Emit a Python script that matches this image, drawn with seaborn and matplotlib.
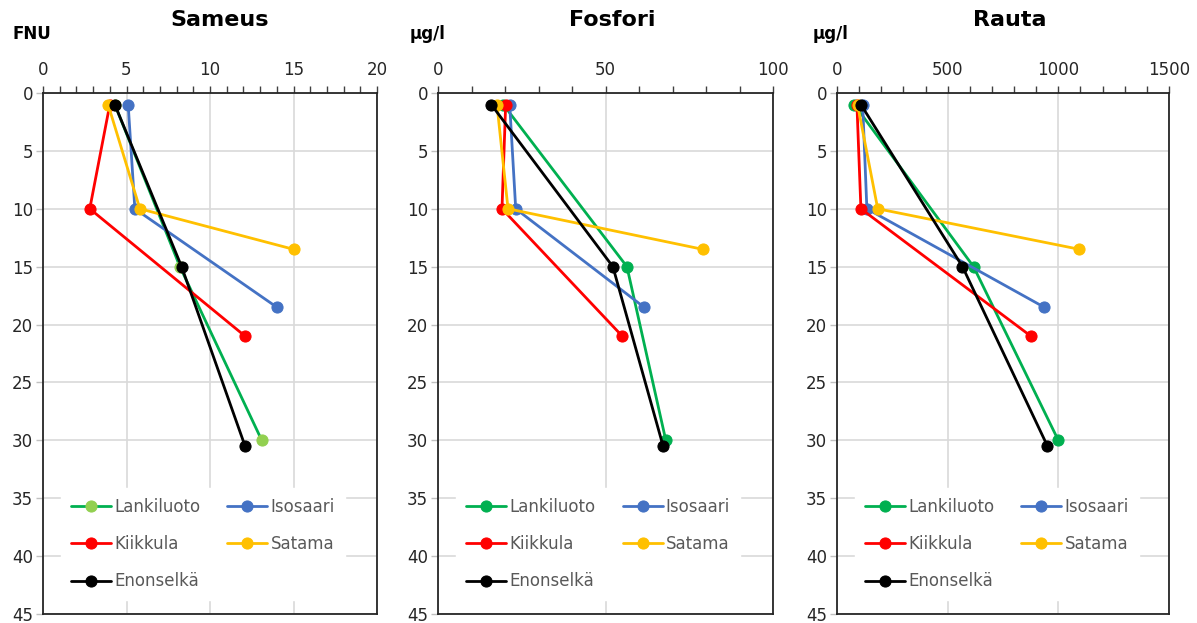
import numpy as np
import pandas as pd
import matplotlib
matplotlib.use("Agg")
import matplotlib.pyplot as plt
from matplotlib.ticker import MultipleLocator
import seaborn as sns

# ---- data ----
stations = ["Lankiluoto", "Isosaari", "Kiikkula", "Satama", "Enonselkä"]
depth_lankiluoto = [1, 15, 30]
depth_isosaari = [1, 10, 18.5]
depth_kiikkula = [1, 10, 21]
depth_satama = [1, 10, 13.5]
depth_enonselka = [1, 15, 30.5]

sameus_lankiluoto = [4.3, 8.2, 13.1]
sameus_isosaari = [5.1, 5.5, 14.0]
sameus_kiikkula = [4.0, 2.8, 12.1]
sameus_satama = [3.9, 5.8, 15.0]
sameus_enonselka = [4.3, 8.3, 12.1]

fosfori_lankiluoto = [19.5, 56.4, 68.0]
fosfori_isosaari = [21.4, 23.2, 61.5]
fosfori_kiikkula = [20.2, 19.1, 55.0]
fosfori_satama = [17.6, 20.9, 79.0]
fosfori_enonselka = [15.9, 52.2, 67.2]

rauta_lankiluoto = [78, 617, 1000]
rauta_isosaari = [116, 135, 936]
rauta_kiikkula = [90, 108, 876]
rauta_satama = [93, 184, 1095]
rauta_enonselka = [108, 567, 951]

titles = ["Sameus", "Fosfori", "Rauta"]
units = ["FNU", "µg/l", "µg/l"]
xmax = [20, 100, 1500]
xmajor = [5, 50, 500]
xminor = [1, 10, 100]

depths = {"Lankiluoto": depth_lankiluoto, "Isosaari": depth_isosaari,
          "Kiikkula": depth_kiikkula, "Satama": depth_satama,
          "Enonselkä": depth_enonselka}
values = [
    {"Lankiluoto": sameus_lankiluoto, "Isosaari": sameus_isosaari, "Kiikkula": sameus_kiikkula,
     "Satama": sameus_satama, "Enonselkä": sameus_enonselka},
    {"Lankiluoto": fosfori_lankiluoto, "Isosaari": fosfori_isosaari, "Kiikkula": fosfori_kiikkula,
     "Satama": fosfori_satama, "Enonselkä": fosfori_enonselka},
    {"Lankiluoto": rauta_lankiluoto, "Isosaari": rauta_isosaari, "Kiikkula": rauta_kiikkula,
     "Satama": rauta_satama, "Enonselkä": rauta_enonselka},
]

colors = {"Lankiluoto": "#00B050", "Isosaari": "#4472C4", "Kiikkula": "#FF0000",
          "Satama": "#FFC000", "Enonselkä": "#000000"}

sns.set_style("white")
plt.rcParams["font.family"] = ["DejaVu Sans"]

fig = plt.figure(figsize=(11.97, 6.23), dpi=100)
W, H = 1197, 623
lefts = [43, 438, 837]
rights = [377, 773, 1169]
top_px, bot_px = 93, 614
title_x = [220, 612, 1010]
unit_x = [12, 410, 813]

for i in range(3):
    ax = fig.add_axes([lefts[i] / W, 1 - bot_px / H, (rights[i] - lefts[i]) / W, (bot_px - top_px) / H])
    for k, st in enumerate(stations):
        df = pd.DataFrame({"value": values[i][st], "depth": depths[st]})
        mfc = "#92D050" if (i == 0 and st == "Lankiluoto") else colors[st]
        sns.lineplot(data=df, x="value", y="depth", ax=ax, sort=False, estimator=None,
                     color=colors[st], linewidth=2.0, marker="o", markersize=8,
                     markerfacecolor=mfc, markeredgecolor=mfc, label=st, zorder=3 + k)
    ax.set_xlim(0, xmax[i])
    ax.set_ylim(45, 0)
    ax.xaxis.set_major_locator(MultipleLocator(xmajor[i]))
    ax.xaxis.set_minor_locator(MultipleLocator(xminor[i]))
    ax.yaxis.set_major_locator(MultipleLocator(5))
    ax.xaxis.tick_top()
    ax.tick_params(axis="x", which="both", top=True, bottom=False, direction="out",
                   length=5, width=1, color="#404040", labelsize=12, pad=5, labelcolor="#262626")
    ax.tick_params(axis="y", which="major", left=True, direction="out", length=5, width=1,
                   color="#c0c0c0", labelsize=12, pad=2, labelcolor="#262626")
    ax.grid(True, which="major", color="#d9d9d9", linewidth=1.2)
    ax.set_axisbelow(True)
    for s in ax.spines.values():
        s.set_visible(True)
        s.set_color("#262626")
        s.set_linewidth(1.3)
    ax.set_xlabel("")
    ax.set_ylabel("")
    # legend in Excel row order: Lankiluoto, Isosaari / Kiikkula, Satama / Enonselkä
    h, l = ax.get_legend_handles_labels()
    hd = dict(zip(l, h))
    order = ["Lankiluoto", "Kiikkula", "Enonselkä", "Isosaari", "Satama"]
    leg = ax.legend([hd[o] for o in order], order, ncol=2, loc="lower left",
                    bbox_to_anchor=(0.03, 0.01), fontsize=12, frameon=True,
                    facecolor="white", edgecolor="white", framealpha=1,
                    handlelength=2.4, handletextpad=0.2, columnspacing=1.6,
                    labelspacing=1.15, borderpad=0.6)
    for t in leg.get_texts():
        t.set_color("#595959")
    leg.set_zorder(20)
    fig.text(title_x[i] / W, 1 - 20 / H, titles[i], ha="center", va="center",
             fontsize=16, fontweight="bold", color="#000000")
    fig.text(unit_x[i] / W, 1 - 34 / H, units[i], ha="left", va="center",
             fontsize=12, fontweight="bold", color="#000000")

fig.savefig("out.png", dpi=100, facecolor="white")
